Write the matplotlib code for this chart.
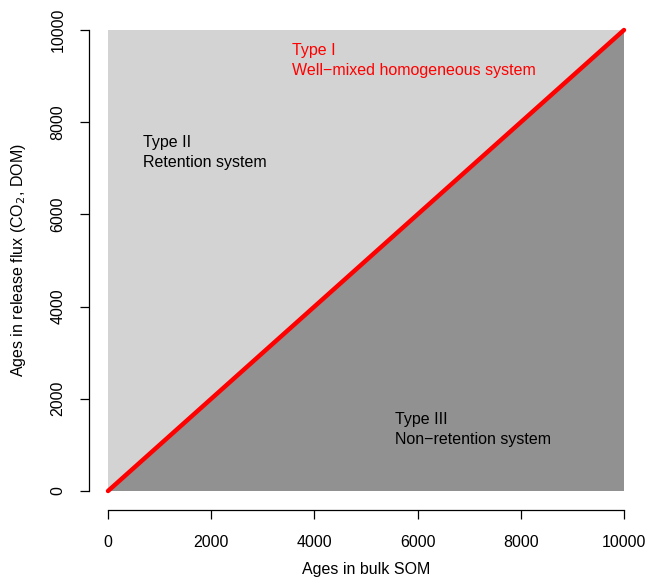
import matplotlib
matplotlib.use("Agg")
import matplotlib.pyplot as plt

plt.rcParams['font.family'] = ['Liberation Sans', 'DejaVu Sans']

# data
lim = [0, 10000]
ticks = [0, 2000, 4000, 6000, 8000, 10000]
upper_tri_x = [0, 0, 10000]
upper_tri_y = [0, 10000, 10000]
lower_tri_x = [0, 10000, 10000]
lower_tri_y = [0, 0, 10000]
labels = [
    (3560, 9340, "Type I\nWell\u2212mixed homogeneous system", "red"),
    (680, 7340, "Type II\nRetention system", "black"),
    (5560, 1335, "Type III\nNon\u2212retention system", "black"),
]

fs = 11.5

fig = plt.figure(figsize=(6.47, 5.79), dpi=100)
ax = fig.add_axes([108/647, 1 - 491/579, 516/647, 461/579])

ax.fill(upper_tri_x, upper_tri_y, color='#D3D3D3', lw=0)
ax.fill(lower_tri_x, lower_tri_y, color='#919191', lw=0)
ax.plot(lim, lim, color='red', lw=3.2, solid_capstyle='round', clip_on=False)

for x, y, s, c in labels:
    ax.text(x, y, s, color=c, fontsize=fs, ha='left', va='center', linespacing=1.45)

ax.set_xlim(lim)
ax.set_ylim(lim)
ax.set_xticks(ticks)
ax.set_yticks(ticks)
for side in ['top', 'right']:
    ax.spines[side].set_visible(False)
for side in ['left', 'bottom']:
    ax.spines[side].set_position(('outward', 14))
    ax.spines[side].set_bounds(0, 10000)
    ax.spines[side].set_linewidth(0.9)
ax.tick_params(length=6.5, width=0.9, pad=10, labelsize=fs)
ax.tick_params(axis='x', pad=11.5)
ax.tick_params(axis='y', labelrotation=90)
for lab in ax.get_yticklabels():
    lab.set_va('center')

ax.set_xlabel('Ages in bulk SOM', fontsize=fs, labelpad=8)
ax.set_ylabel('Ages in release flux (CO$_2$, DOM)', fontsize=fs)
ax.yaxis.set_label_coords(-0.1744, 0.5)
ax.yaxis.label.set_va('center')

fig.savefig('out.png', dpi=100)
